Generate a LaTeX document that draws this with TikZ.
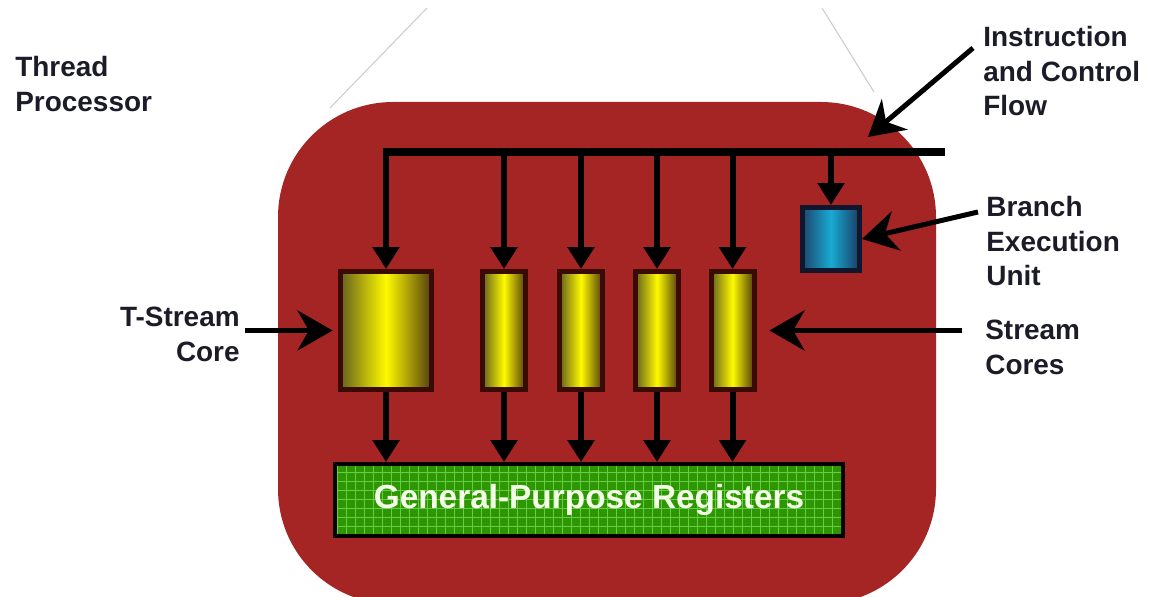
\documentclass[tikz,border=0pt]{standalone}
\usepackage{fontspec}
\setmainfont{Liberation Sans}
\usepackage{tikz}
\usetikzlibrary{arrows.meta,calc,positioning}
\usepackage{xcolor}

\definecolor{tpred}{RGB}{165,37,37}
\definecolor{labeltext}{RGB}{28,28,40}
\definecolor{coreedge}{RGB}{58,10,5}
\definecolor{coreleft}{RGB}{100,95,30}
\definecolor{coremid}{RGB}{255,250,0}
\definecolor{coreright}{RGB}{80,60,15}
\definecolor{bueedge}{RGB}{15,22,45}
\definecolor{bueleft}{RGB}{30,70,110}
\definecolor{buemid}{RGB}{25,170,210}
\definecolor{bueright}{RGB}{25,60,100}
\definecolor{regfill}{RGB}{45,150,0}
\definecolor{reggrid}{RGB}{100,205,70}
\definecolor{regtext}{RGB}{244,255,232}

\begin{document}
\begin{tikzpicture}[x=0.02cm, y=-0.02cm,
  lbl/.style={font=\fontsize{15.9pt}{19.6pt}\selectfont\bfseries, text=labeltext, inner sep=0pt},
  scorebox/.style={draw=coreedge, line width=0.1cm, left color=coreleft, right color=coreright, middle color=coremid,
    minimum width=0.86cm, minimum height=2.36cm, inner sep=0pt},
  bunitbox/.style={draw=bueedge, line width=0.1cm, left color=bueleft, right color=bueright, middle color=buemid,
    minimum width=1.14cm, minimum height=1.26cm, inner sep=0pt},
  gprbox/.style={fill=regfill, draw=black, line width=0.08cm, minimum width=10.16cm, minimum height=1.44cm,
    text=regtext, font=\fontsize{19pt}{20pt}\selectfont\bfseries,
    path picture={\draw[reggrid, line width=0.45pt, step=0.18cm] (path picture bounding box.south west) grid (path picture bounding box.north east);}},
  bus/.style={line width=0.16cm},
  flow/.style={line width=0.12cm, -{Triangle[length=0.44cm,width=0.52cm]}},
  pointer/.style={line width=0.1cm, -{Stealth[length=0.7cm,width=0.8cm]}},
  zoomline/.style={gray!40, line width=0.6pt}]

\useasboundingbox (0,0) rectangle (1150,597);
\clip (0,0) rectangle (1150,597);

% processor body
\fill[tpred, rounded corners=2.3cm] (278,102) rectangle (936,604);
\draw[zoomline] (330,108) -- (427,8);
\draw[zoomline] (822,8) -- (874,92);

% labels
\node[lbl, anchor=north west, align=left] (tproc) at (15,56) {Thread\\Processor};
\node[lbl, anchor=north west, align=left] (instr) at (983,26) {Instruction\\and Control\\Flow};
\node[lbl, anchor=north west, align=left] (branch) at (986,196) {Branch\\Execution\\Unit};
\node[lbl, anchor=north west, align=left] (stream) at (985,320) {Stream\\Cores};
\node[lbl, anchor=north east, align=right] (tstream) at (240,307) {T-Stream\\Core};

% cores
\node[scorebox, minimum width=1.84cm] (tcore) at (386,330.5) {};
\node[scorebox] (core1) at (504,330.5) {};
\node[scorebox] (core2) at (581,330.5) {};
\node[scorebox] (core3) at (657,330.5) {};
\node[scorebox] (core4) at (732.5,330.5) {};
\node[bunitbox] (bunit) at (831,239) {};
\node[gprbox] (gpr) at (589,500) {General-Purpose Registers\hspace{0.3cm}};

% instruction bus
\coordinate (busL) at (383,152);
\coordinate (busR) at (945,152);
\coordinate (iflow) at (868,137);
\draw[bus] (busL) -- (busR);

\draw[flow] (tcore.north |- busL) -- (tcore.north);
\draw[flow] (core1.north |- busL) -- (core1.north);
\draw[flow] (core2.north |- busL) -- (core2.north);
\draw[flow] (core3.north |- busL) -- (core3.north);
\draw[flow] (core4.north |- busL) -- (core4.north);
\draw[flow] (bunit.north |- busL) -- (bunit.north);

\draw[flow] (tcore.south) -- (tcore.south |- gpr.north);
\draw[flow] (core1.south) -- (core1.south |- gpr.north);
\draw[flow] (core2.south) -- (core2.south |- gpr.north);
\draw[flow] (core3.south) -- (core3.south |- gpr.north);
\draw[flow] (core4.south) -- (core4.south |- gpr.north);

% pointers
\draw[pointer] ([shift={(-10,22)}]instr.north west) -- (iflow);
\draw[pointer] ([shift={(-8,16)}]branch.north west) -- (bunit.east);
\draw[pointer, shorten >=0.26cm] ([xshift=-0.46cm]stream.west |- core4.east) -- (core4.east);
\draw[pointer, shorten >=0.1cm] ([xshift=0.1cm]tstream.east |- tcore.west) -- (tcore.west);

\end{tikzpicture}
\end{document}
